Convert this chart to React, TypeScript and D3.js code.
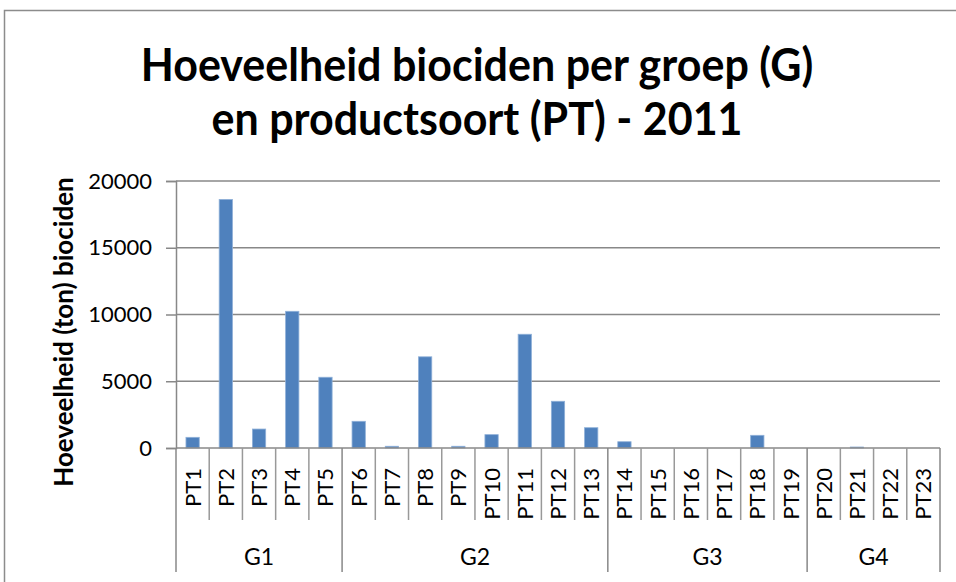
import React, { useEffect, useRef } from "react";
import * as d3 from "d3";

const categories = ["PT1", "PT2", "PT3", "PT4", "PT5", "PT6", "PT7", "PT8", "PT9", "PT10", "PT11", "PT12", "PT13", "PT14", "PT15", "PT16", "PT17", "PT18", "PT19", "PT20", "PT21", "PT22", "PT23"];
const values = [800, 18620, 1420, 10240, 5300, 2000, 130, 6830, 130, 1000, 8520, 3500, 1520, 470, 0, 0, 0, 950, 0, 0, 75, 0, 0];
const groups = ["G1", "G2", "G3", "G4"];
const groupSizes = [5, 8, 6, 4];
const yTicks = [0, 5000, 10000, 15000, 20000];

const FONT = "Lato, 'Open Sans', sans-serif";

const App = () => {
  const chartRef = useRef<SVGSVGElement>(null);

  useEffect(() => {
    drawChart();
  }, []);

  const drawChart = () => {
    const svg = d3.select(chartRef.current);
    svg.selectAll("*").remove();

    const left = 176;
    const right = 940;
    const top = 181;
    const bottom = 448;

    // chart border (runs off the right and bottom edges)
    svg
      .append("rect")
      .attr("x", 4.5)
      .attr("y", 10.5)
      .attr("width", 1200)
      .attr("height", 1000)
      .attr("fill", "white")
      .attr("stroke", "#8c8c8c")
      .attr("stroke-width", 1.5);

    // title, slightly stretched vertically like the original
    ["Hoeveelheid biociden per groep (G)", "en productsoort (PT) - 2011"].forEach((line, i) => {
      svg
        .append("text")
        .attr("transform", `translate(477,${i === 0 ? 81 : 135}) scale(1,1.08)`)
        .attr("text-anchor", "middle")
        .attr("font-family", FONT)
        .attr("font-weight", "bold")
        .attr("font-size", 43)
        .attr("fill", "#000")
        .text(line);
    });

    const x = d3.scaleBand().domain(categories).range([left, right]).padding(0);
    const y = d3.scaleLinear().domain([0, 20000]).range([bottom, top]);

    // gridlines
    svg
      .append("g")
      .selectAll("line")
      .data(yTicks.filter((d) => d > 0))
      .join("line")
      .attr("x1", left)
      .attr("x2", right)
      .attr("y1", (d) => y(d))
      .attr("y2", (d) => y(d))
      .attr("stroke", "#888")
      .attr("stroke-width", 1.5);

    // bars
    const step = x.step();
    svg
      .append("g")
      .selectAll("rect")
      .data(values.map((v, i) => ({ cat: categories[i], v })).filter((d) => d.v > 0))
      .join("rect")
      .attr("x", (d) => (x(d.cat) as number) + step * 0.3)
      .attr("width", step * 0.4)
      .attr("y", (d) => y(d.v))
      .attr("height", (d) => bottom - y(d.v))
      .attr("fill", "#4f81bd")
      .attr("stroke", "#8fb0d8")
      .attr("stroke-width", 0.8);

    // y axis
    const yAxis = svg
      .append("g")
      .attr("transform", `translate(${left},0)`)
      .call(d3.axisLeft(y).tickValues(yTicks).tickSize(10).tickPadding(14).tickFormat((d) => String(d)));
    yAxis.select(".domain").attr("stroke", "#888").attr("stroke-width", 1.5);
    yAxis.selectAll(".tick line").attr("stroke", "#888").attr("stroke-width", 1.5);
    yAxis
      .selectAll(".tick text")
      .attr("font-family", FONT)
      .attr("font-size", 22)
      .attr("fill", "#000");

    svg
      .append("text")
      .attr("transform", `translate(73,332) rotate(-90)`)
      .attr("text-anchor", "middle")
      .attr("font-family", FONT)
      .attr("font-weight", "bold")
      .attr("font-size", 26)
      .text("Hoeveelheid (ton) biociden");

    // category axis baseline
    svg
      .append("line")
      .attr("x1", left)
      .attr("x2", right)
      .attr("y1", bottom)
      .attr("y2", bottom)
      .attr("stroke", "#888")
      .attr("stroke-width", 1.5);

    // group boundaries
    const bounds: number[] = [0];
    groupSizes.forEach((s, i) => bounds.push(bounds[i] + s));
    const boundX = (i: number) => (i < categories.length ? (x(categories[i]) as number) : right);

    // category separators
    svg
      .append("g")
      .selectAll("line")
      .data(d3.range(1, categories.length).filter((i) => !bounds.includes(i)))
      .join("line")
      .attr("x1", (i) => boundX(i))
      .attr("x2", (i) => boundX(i))
      .attr("y1", bottom)
      .attr("y2", 520)
      .attr("stroke", "#999")
      .attr("stroke-width", 1.5);

    svg
      .append("g")
      .selectAll("line")
      .data(bounds)
      .join("line")
      .attr("x1", (i) => boundX(i))
      .attr("x2", (i) => boundX(i))
      .attr("y1", bottom)
      .attr("y2", 572)
      .attr("stroke", "#888")
      .attr("stroke-width", 1.5);

    // category labels
    svg
      .append("g")
      .selectAll("text")
      .data(categories)
      .join("text")
      .attr("transform", (d) => `translate(${(x(d) as number) + step / 2 + 8},468) rotate(-90)`)
      .attr("text-anchor", "end")
      .attr("font-family", FONT)
      .attr("font-size", 22)
      .text((d) => d);

    // group labels
    svg
      .append("g")
      .selectAll("text")
      .data(groups)
      .join("text")
      .attr("x", (d, i) => (boundX(bounds[i]) + boundX(bounds[i + 1])) / 2)
      .attr("y", 565)
      .attr("text-anchor", "middle")
      .attr("font-family", FONT)
      .attr("font-size", 23)
      .text((d) => d);
  };

  return (
    <svg
      ref={chartRef}
      width={956}
      height={582}
      style={{ position: "absolute", left: 0, top: 0, background: "white" }}
    ></svg>
  );
};

export default App;
